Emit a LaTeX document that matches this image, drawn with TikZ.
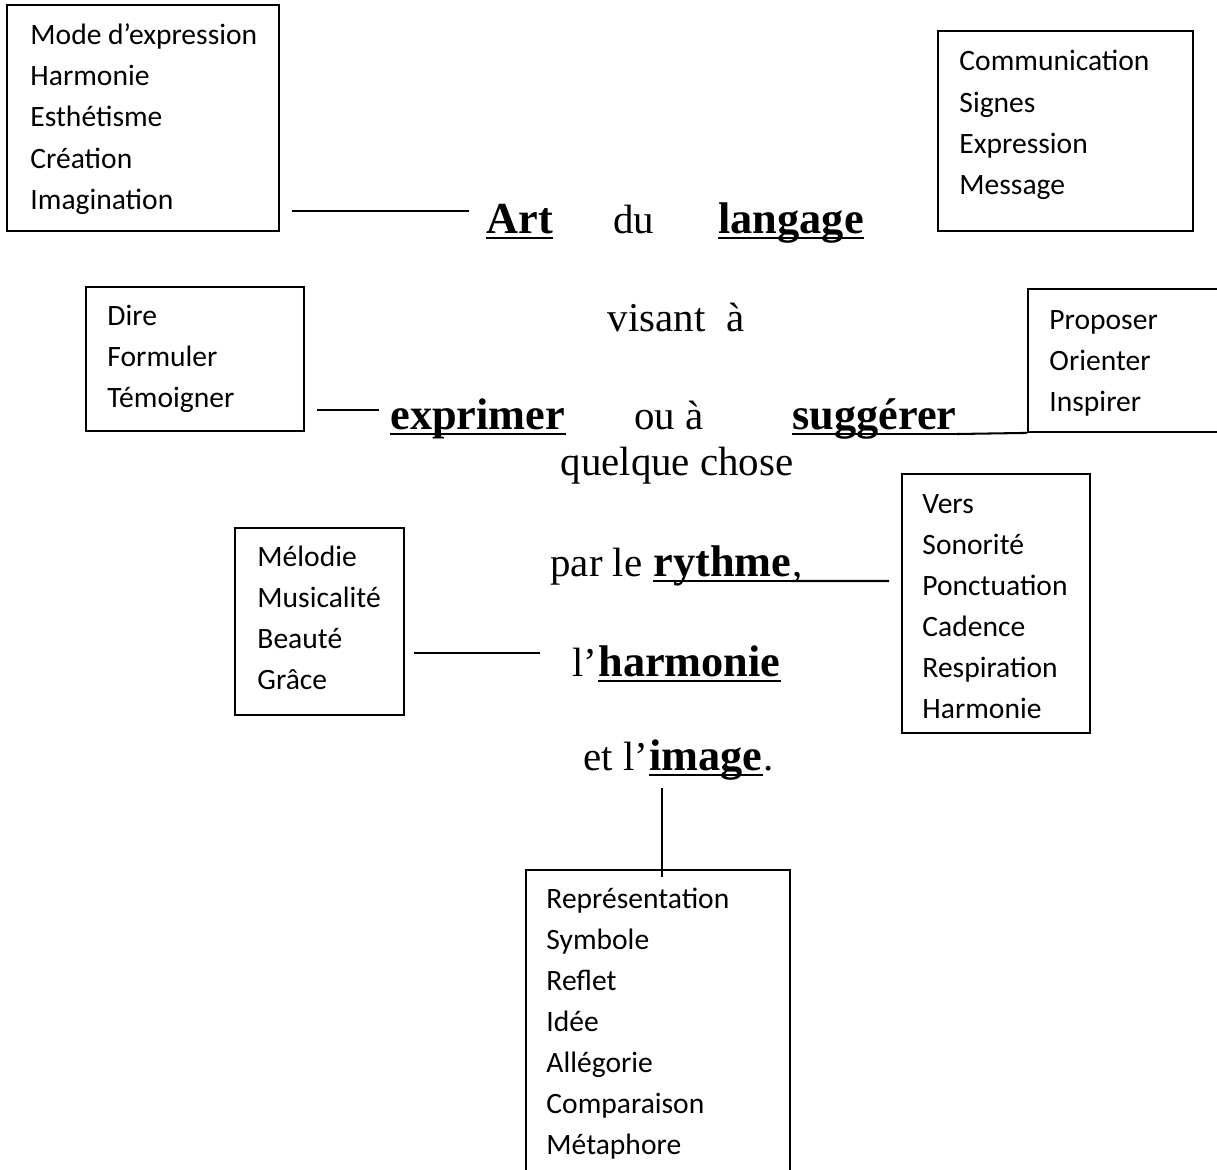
\documentclass[tikz,border=0pt]{standalone}
\usepackage{fontspec}
\setmainfont{Liberation Serif}
\newfontfamily\boxfont{Carlito}
\usetikzlibrary{positioning}
\usetikzlibrary{fit}

\tikzset{
  listbox/.style={draw, line width=0.8pt, inner sep=0pt},
  item/.style={font=\boxfont\fontsize{13}{15}\selectfont, inner sep=0pt, anchor=base west},
  plain/.style={font=\fontsize{18}{22}\selectfont, inner sep=0pt, anchor=base west},
  keyword/.style={font=\fontsize{19.5}{23}\selectfont\bfseries, inner sep=0pt, anchor=base west},
  link/.style={line width=0.9pt},
  uline/.style={line width=0.9pt}
}

% a framed box from its two corners
\newcommand{\listframe}[3]{
  \coordinate (#1-nw) at (#2);
  \coordinate (#1-se) at (#3);
  \node[listbox, fit=(#1-nw)(#1-se)] (#1) {};
}
\newcommand{\underword}[1]{\draw[uline] ([yshift=-2.2pt]#1.base west) -- ([yshift=-2.2pt]#1.base east);}

\begin{document}
\begin{tikzpicture}[x=0.44pt, y=-0.44pt]
\useasboundingbox (0,0) rectangle (1217,1169);
\clip (0,0) rectangle (1217,1169);

% boxes
\listframe{modebox}{7,5}{279,231}
\listframe{commbox}{938,31}{1193,231}
\listframe{direbox}{86,287}{304,431}
\listframe{propbox}{1028,289}{1240,432}
\listframe{versbox}{902,474}{1090,733}
\listframe{melobox}{235,528}{404,715}
\listframe{reprbox}{526,870}{790,1200}

\foreach \w [count=\i from 0] in {Mode d’expression, Harmonie, Esthétisme, Création, Imagination}
{
	\node[item] (mode-\i) at (30, 45+41*\i) {\w};
}

\foreach \w [count=\i from 0] in {Communication, Signes, Expression, Message}
{
	\node[item] (comm-\i) at (959, 71+41*\i) {\w};
}

\foreach \w [count=\i from 0] in {Dire, Formuler, Témoigner}
{
	\node[item] (dire-\i) at (107, 325+41*\i) {\w};
}

\foreach \w [count=\i from 0] in {Proposer, Orienter, Inspirer}
{
	\node[item] (prop-\i) at (1049, 329+41*\i) {\w};
}

\foreach \w [count=\i from 0] in {Vers, Sonorité, Ponctuation, Cadence, Respiration, Harmonie}
{
	\node[item] (vers-\i) at (922, 513+41*\i) {\w};
}

\foreach \w [count=\i from 0] in {Mélodie, Musicalité, Beauté, Grâce}
{
	\node[item] (melo-\i) at (257, 566+41*\i) {\w};
}

\foreach \w [count=\i from 0] in {Représentation, Symbole, Reflet, Idée, Allégorie, Comparaison, Métaphore}
{
	\node[item] (repr-\i) at (546, 908+41*\i) {\w};
}

% central sentence
\node[keyword] (art) at (486,233) {Art};
\node[plain] (du) at (613,233) {du};
\node[keyword] (langage) at (718,233) {langage};

\node[plain, anchor=base] (visant) at (676,331) {visant~~à};

\node[keyword] (exprimer) at (390,429) {exprimer};
\node[plain] (oua) at (634,429) {ou à};
\node[keyword] (suggerer) at (792,429) {suggérer};

\node[plain, anchor=base] (quelque) at (677,475) {quelque chose};

\node[plain] (parle) at (550,576) {par le};
\node[keyword] (rythme) at ([xshift=4.5pt]parle.base east) {rythme};
\node[plain] (comma) at (rythme.base east) {,};

\node[plain] (lap) at (572,676) {l’};
\node[keyword] (harmonie) at (lap.base east) {harmonie};

\node[plain] (etl) at (583,770) {et l’};
\node[keyword] (image) at (etl.base east) {image};
\node[plain] (point) at (image.base east) {.};

\underword{art}
\underword{langage}
\underword{exprimer}
\underword{suggerer}
\underword{rythme}
\underword{harmonie}
\underword{image}

% connectors
\coordinate (imgtail) at (662,788);

\draw[link, shorten <=5.3pt, shorten >=7.5pt] (modebox.east |- 0,211) -- (art.west |- 0,211);
\draw[link, shorten <=5.3pt, shorten >=4.8pt] (direbox.east |- 0,410) -- (exprimer.west |- 0,410);
\draw[link] ([yshift=-2.2pt]suggerer.base east) -- (propbox.south west);
\draw[link, shorten >=5.3pt] ([yshift=-2.2pt]rythme.base east) -- (versbox.west |- 0,581);
\draw[link, shorten <=4pt, shorten >=14pt] (melobox.east |- 0,653) -- (lap.west |- 0,653);
\draw[link, shorten >=-3.5pt] (imgtail) -- (imgtail |- reprbox.north);

\end{tikzpicture}
\end{document}
